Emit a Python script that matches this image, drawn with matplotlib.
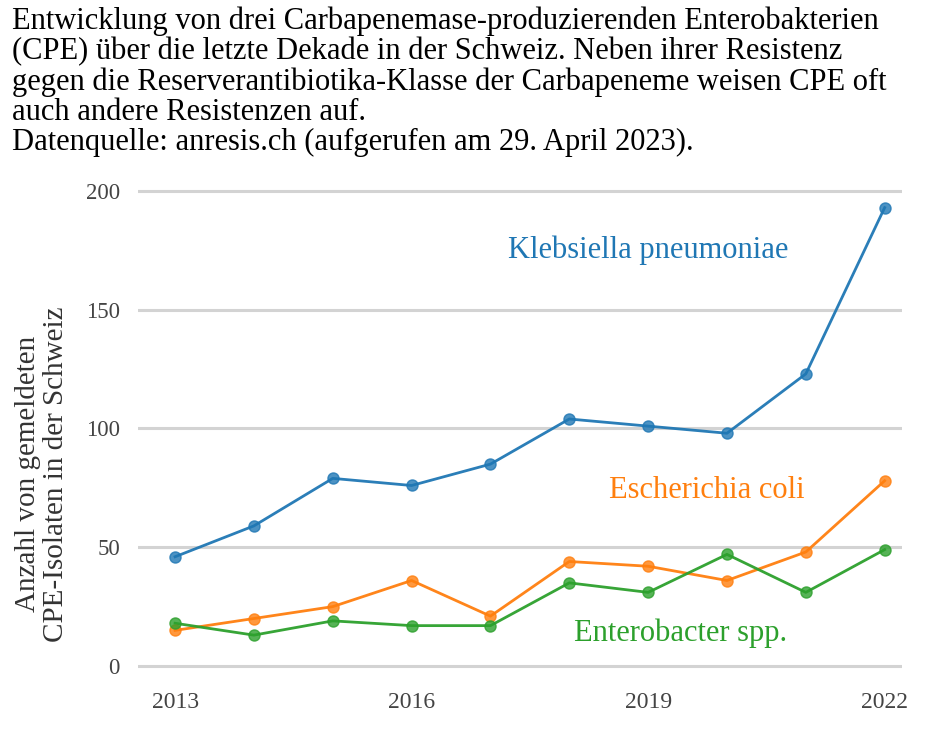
import matplotlib
matplotlib.use("Agg")
import matplotlib.pyplot as plt

years = [2013, 2014, 2015, 2016, 2017, 2018, 2019, 2020, 2021, 2022]
klebsiella = [46, 59, 79, 76, 85, 104, 101, 98, 123, 193]
ecoli = [15, 20, 25, 36, 21, 44, 42, 36, 48, 78]
enterobacter = [18, 13, 19, 17, 17, 35, 31, 47, 31, 49]
series_names = ["Klebsiella pneumoniae", "Escherichia coli", "Enterobacter spp."]
colors = ["#1f77b4", "#ff7f0e", "#2ca02c"]
xticks = [2013, 2016, 2019, 2022]
yticks = [0, 50, 100, 150, 200]

title = ("Entwicklung von drei Carbapenemase-produzierenden Enterobakterien\n"
         "(CPE) über die letzte Dekade in der Schweiz. Neben ihrer Resistenz\n"
         "gegen die Reserverantibiotika-Klasse der Carbapeneme weisen CPE oft\n"
         "auch andere Resistenzen auf.\n"
         "Datenquelle: anresis.ch (aufgerufen am 29. April 2023).")
ylabel = "Anzahl von gemeldeten\nCPE-Isolaten in der Schweiz"

plt.rcParams['font.family'] = ['Liberation Serif', 'DejaVu Serif']

fig = plt.figure(figsize=(9.3, 7.3), dpi=100)
ax = fig.add_axes([0.1484, 0.0714, 0.8215, 0.6995])

for vals, c in zip([klebsiella, ecoli, enterobacter], colors):
    ax.plot(years, vals, color=c, lw=2.0, alpha=0.95, zorder=3)
    ax.plot(years, vals, 'o', color=c, ms=8, alpha=0.8, zorder=4)

ax.set_xlim(2012.53, 2022.22)
ax.set_ylim(-5, 210)
ax.set_xticks(xticks)
ax.set_yticks(yticks)
ax.grid(axis='y', color='#d3d3d3', lw=2.2, zorder=0)
ax.set_axisbelow(True)
for s in ax.spines.values():
    s.set_visible(False)
ax.tick_params(length=0, colors='#444444')
ax.tick_params(axis='y', labelsize=16.5, pad=13)
ax.tick_params(axis='x', labelsize=17, pad=10)

fig.text(0.045, 0.351, ylabel, fontsize=21, color='#333333', rotation=90,
         ha='center', va='center', linespacing=1.12, multialignment='center')

ax.text(2019.0, 175, series_names[0], color=colors[0], fontsize=22, ha='center', va='center')
ax.text(2019.74, 74, series_names[1], color=colors[1], fontsize=22, ha='center', va='center')
ax.text(2019.41, 14, series_names[2], color=colors[2], fontsize=22, ha='center', va='center')

fig.text(0.013, 0.991, title, fontsize=22, va='top', ha='left', color='black', linespacing=1.05)

fig.savefig("out.png", dpi=100)
